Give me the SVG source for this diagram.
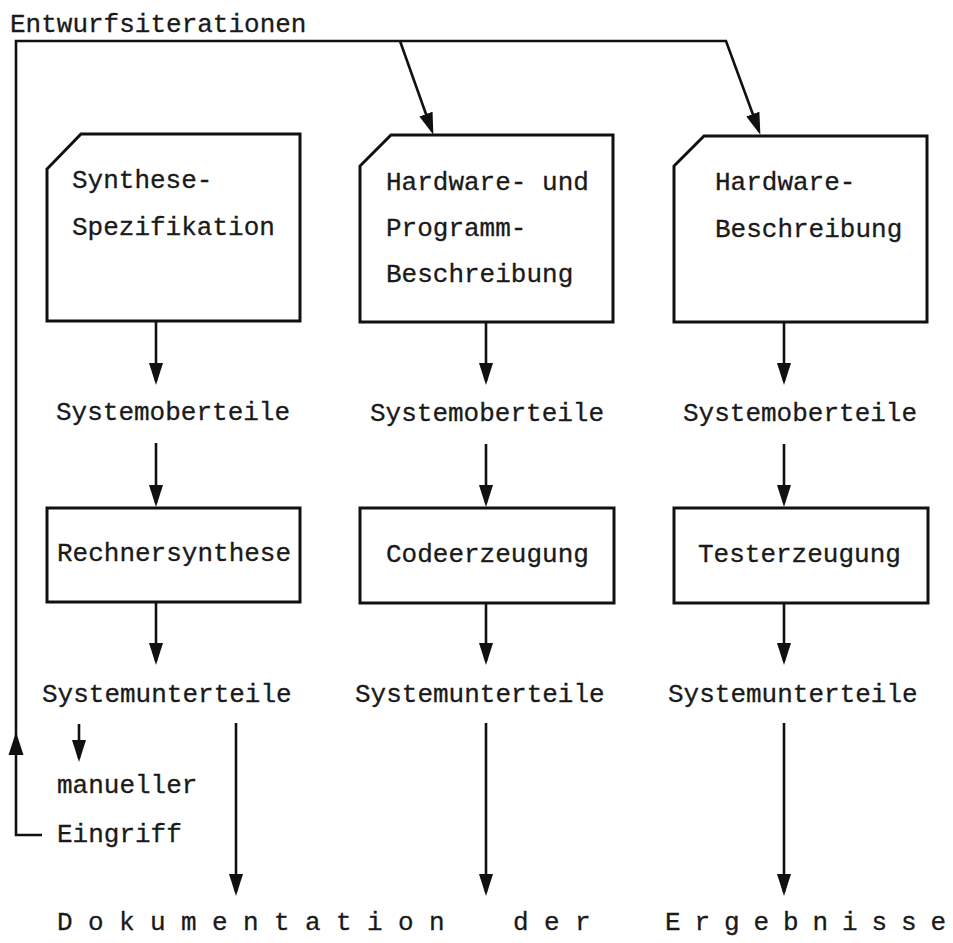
<svg xmlns="http://www.w3.org/2000/svg" width="953" height="943" viewBox="0 0 953 943">
  <defs>
    <style>
      text { font-family: "Liberation Mono", "DejaVu Sans Mono", monospace; font-size: 26px; fill: #1a1a1a; stroke: #1a1a1a; stroke-width: 0.3; }
      .box { fill: #fff; stroke: #111; stroke-width: 3; stroke-linejoin: miter; }
      .wire { fill: none; stroke: #111; stroke-width: 2.6; }
    </style>
    <marker id="head" viewBox="0 0 22 14" markerWidth="22" markerHeight="14" refX="18" refY="7" orient="auto" markerUnits="userSpaceOnUse">
      <path d="M0,0 L22,7 L0,14 Z" fill="#111"/>
    </marker>
  </defs>

  <rect width="953" height="943" fill="#fff"/>

  <text x="10" y="32">Entwurfsiterationen</text>

  <!-- document-shaped input nodes -->
  <g id="synthese-spezifikation">
    <path class="box" d="M81,134 H300 V321 H47 V169 Z"/>
    <text x="72" y="188">Synthese-</text>
    <text x="72" y="235">Spezifikation</text>
  </g>
  <g id="hardware-programm-beschreibung">
    <path class="box" d="M391,135 H613 V322 H360 V166 Z"/>
    <text x="386" y="190">Hardware- und</text>
    <text x="386" y="236">Programm-</text>
    <text x="386" y="282">Beschreibung</text>
  </g>
  <g id="hardware-beschreibung">
    <path class="box" d="M704,136 H927 V322 H674 V166 Z"/>
    <text x="715" y="190">Hardware-</text>
    <text x="715" y="237">Beschreibung</text>
  </g>

  <!-- intermediate labels -->
  <g id="systemoberteile-1"><text x="56" y="420">Systemoberteile</text></g>
  <g id="systemoberteile-2"><text x="370" y="421">Systemoberteile</text></g>
  <g id="systemoberteile-3"><text x="683" y="421">Systemoberteile</text></g>

  <!-- processing nodes -->
  <g id="rechnersynthese">
    <rect class="box" x="47" y="508" width="253" height="94"/>
    <text x="57" y="561">Rechnersynthese</text>
  </g>
  <g id="codeerzeugung">
    <rect class="box" x="360" y="508" width="254" height="95"/>
    <text x="386" y="562">Codeerzeugung</text>
  </g>
  <g id="testerzeugung">
    <rect class="box" x="674" y="508" width="254" height="95"/>
    <text x="698" y="562">Testerzeugung</text>
  </g>

  <g id="systemunterteile-1"><text x="42" y="702">Systemunterteile</text></g>
  <g id="systemunterteile-2"><text x="355" y="702">Systemunterteile</text></g>
  <g id="systemunterteile-3"><text x="668" y="702">Systemunterteile</text></g>

  <g id="manueller-eingriff">
    <text x="57" y="793">manueller</text>
    <text x="57" y="842">Eingriff</text>
  </g>

  <!-- spaced-out result line, one position per letter -->
  <g id="dokumentation">
    <text x="57 88 119 150 181 212 243 274 305 336 367 398 429" y="930">Dokumentation</text>
    <text x="513 544 575" y="930">der</text>
    <text x="665 694.5 724 753.5 783 812.5 842 871.5 901 930.5" y="930">Ergebnisse</text>
  </g>

  <!-- connectors -->
  <g id="connectors">
    <!-- feedback loop: manual intervention back to the design inputs -->
    <path class="wire" d="M42,835 H16 V41 H726 L759,131" marker-end="url(#head)"/>
    <path class="wire" d="M400,41 L432,131" marker-end="url(#head)"/>
    <polygon points="16,732 8.5,755 23.5,755" fill="#111"/>

    <!-- column 1 -->
    <line class="wire" x1="156" y1="321" x2="156" y2="381" marker-end="url(#head)"/>
    <line class="wire" x1="156" y1="443" x2="156" y2="503" marker-end="url(#head)"/>
    <line class="wire" x1="156" y1="602" x2="156" y2="661" marker-end="url(#head)"/>
    <line class="wire" x1="79" y1="724" x2="79" y2="758" marker-end="url(#head)"/>
    <line class="wire" x1="236" y1="723" x2="236" y2="892" marker-end="url(#head)"/>

    <!-- column 2 -->
    <line class="wire" x1="486" y1="322" x2="486" y2="381" marker-end="url(#head)"/>
    <line class="wire" x1="486" y1="444" x2="486" y2="503" marker-end="url(#head)"/>
    <line class="wire" x1="486" y1="603" x2="486" y2="661" marker-end="url(#head)"/>
    <line class="wire" x1="486" y1="723" x2="486" y2="892" marker-end="url(#head)"/>

    <!-- column 3 -->
    <line class="wire" x1="784" y1="322" x2="784" y2="381" marker-end="url(#head)"/>
    <line class="wire" x1="784" y1="444" x2="784" y2="503" marker-end="url(#head)"/>
    <line class="wire" x1="784" y1="603" x2="784" y2="661" marker-end="url(#head)"/>
    <line class="wire" x1="784" y1="723" x2="784" y2="892" marker-end="url(#head)"/>
  </g>
</svg>
